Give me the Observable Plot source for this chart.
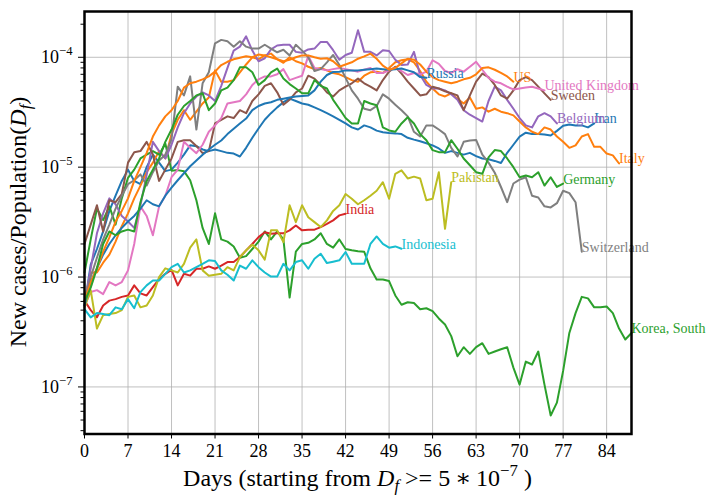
<!DOCTYPE html>
<html><head><meta charset="utf-8">
<script src="https://cdn.jsdelivr.net/npm/d3@7"></script>
<script src="https://cdn.jsdelivr.net/npm/@observablehq/plot@0.6"></script>
<style>
body{margin:0;background:#fff;}
#chart{width:720px;height:504px;}
</style>
</head><body><div id="chart"></div>
<script>
// New cases / population, given in units of 1e-6 (per million), one value per day from day 0
const iran = [0.55,1.3,1.8,2.6,4.0,5.5,7.5,9.5,7.5,7.0, 10,13,11,9.2,9.5,11,13,15.8,15.5,14.5, 14,14.5,14,13.5,13.3,12.5,15,18.5,22.5,27, 31,35,39,42,40,38,37,35,33,31, 29,27,25,23,22,24,23,21.5,20.8,20.5, 20.3,20,18.5,17.8,17.2,16.5,15.8,14.8,13.5,14, 13.5,13,13.5,12.6,12,11.8,11.4,10.9,13.5,16, 19,20.6,20,20,19.8,19.4,21.4,23.8,24.5,24, 24,23,25];
const italy = [0.6,1.1,1.1,1.35,1.6,2.1,2.9,3.8,5.2,6.8, 9.0,11,14,12,20,27,33,27,32,38, 43,76,60,60,62,73,86,100,96,104, 108,96,89,100,92,88,82,78,80,76, 72,70,66,62,60,68,73,74,72,80, 90,94,96,90,75,60,52,46,44,47, 42,38,43,34,35,32,34,32,31,29.6, 26,23,21,20,23,22,19,17,15,15.8, 19,20,15.3,15.3,13.3,12.8,10.8];
const korea = [1.1,2.2,4.2,3.3,4.4,3.0,5.2,8.0,9.5,12, 13,14,13,16.4,9.3,9.4,9.2,7.6,5.0,2.8, 2.0,3.8,2.2,2.1,1.9,1.5,1.55,1.8,2.1,2.6, 2.2,2.6,2.2,0.65,1.7,2.0,2.05,2.2,2.5,2.0, 1.85,2.2,1.8,1.75,1.72,1.7,1.2,0.95,0.95,0.92, 0.68,0.56,0.59,0.58,0.51,0.52,0.49,0.42,0.37,0.29, 0.19,0.23,0.20,0.23,0.25,0.20,0.21,0.22,0.23,0.15, 0.105,0.17,0.16,0.21,0.105,0.055,0.072,0.14,0.31,0.47, 0.66,0.64,0.53,0.53,0.54,0.47,0.34,0.27,0.31];
const india = [0.61,0.5,0.43,0.55,0.61,0.63,0.66,0.68,0.84,0.71, 0.68,0.81,0.96,1.07,1.16,0.84,1.07,1.03,1.19,1.19, 1.25,1.19,1.27,1.37,1.37,1.52,1.75,2.0,2.31,2.56, 2.48,2.5,2.5,2.66,2.95,2.66,2.7,2.7,2.85,3.05, 3.28,3.64,3.77];
const belgium = [0.55,1.2,2.5,3.8,5.2,4.6,3.6,3.2,2.8,4.5, 8.5,17,14,12,16,23,31,38,44,48, 45,40,55,80,115,125,155,115,92,98, 118,128,130,130,112,110,118,120,138,138, 116,95,105,110,176,112,112,104,116,114, 95,85,86,112,69,56,52,52,50,46, 41,33,30,28,26,40,54,50,41,34, 28,24,23,29,31,29,25];
const sweden = [2.0,3.0,4.5,2.6,5.0,4.8,5.7,11,13.7,14, 17,13,7.5,9.5,12,17,17.6,17.6,15.6,13.4, 14,25,27,29,28,33,31,40,46,55, 58,48,37,41,48,52,68,64,56,48, 44,50,54,58,64,58,54,50,62,74, 82,71,60,52,45,46,54,52,49,47, 45,33,45,60,71,66,56,45,42,50, 62,66,62,54,47,41];
const uk = [0.55,0.73,0.76,0.7,0.9,0.84,0.9,1.15,2.0,4.4, 3.6,2.4,4.4,5.5,8.1,9.5,17,15,13.4,16, 21,24,28,38,39,40,46,56,63,67, 67,70,78,62,65,68,103,80,78,76, 78,80,78,76,74,77,80,72,72,76, 80,75,69,72,70,74,94,87,75,72, 78,74,82,91,77,65,60,58,54,51, 52,53,54,52,50];
const switzerland = [0.6,1.0,1.5,2.2,3.0,4.2,5.5,7.0,7.6,8.6, 6.8,9.0,11.5,13,18,54,45,67,22,58, 73,134,144,140,125,140,125,120,120,130, 120,111,117,104,130,115,100,75,78,90, 105,85,65,50,42,34,33,36,46,42, 37,33,29,21,19,24,24,22,20,15, 12.5,17,17.5,17.7,13,11,8.9,6.6,4.8,7.1, 7.7,8.1,5.5,5.3,4.4,4.3,4.7,6.1,5.8,4.8, 1.7];
const pakistan = [0.53,0.76,0.34,0.45,0.46,0.47,0.5,0.66,0.68,0.53, 0.55,0.68,1.0,1.2,1.15,1.1,1.32,1.85,2.2,1.15, 1.03,1.05,1.07,1.23,1.15,1.52,1.75,1.97,1.75,1.44, 2.66,2.66,2.08,4.5,3.16,4.5,3.5,3.16,2.85,3.28, 4.0,4.5,5.7,5.16,4.6,5.0,5.5,6.1,7.3,5.16, 8.7,9.35,7.9,8.2,7.9,5.0,5.16,9.0,2.75,7.3];
const indonesia = [0.51,0.43,0.47,0.46,0.45,0.53,0.51,0.63,0.52,0.73, 0.84,0.93,0.93,1.07,1.23,1.32,1.1,1.15,1.23,1.32, 1.42,1.4,1.15,1.05,0.93,1.27,1.19,1.42,1.23,1.1, 1.01,1.01,1.32,1.15,1.37,1.42,1.19,1.47,1.63,1.34, 1.38,1.42,1.69,1.32,1.32,1.32,2.0,2.34,2.0,1.85, 1.9,1.81];
const russia = [0.55,0.9,1.2,1.6,2.0,2.4,2.8,3.2,3.6,4.2, 5.0,4.6,4.4,5.5,6.5,7.6,8.8,10.2,11.5,13, 14.5,16,17.5,20,22.4,25,27.7,33,36,38, 39,41,42,43,44,44.5,45,50,60,69, 73.5,74,76,76,76,77,78,79,78,77, 78,79,76,73,66,65];
const us = [0.6,0.9,1.2,1.7,2.3,3.2,4.0,5.2,7.5,10, 13.5,19,24,29,33,40,53,58,60,63, 67,74,85,91,96,99,102,100,106,104, 100,96,92,95,100,104,104,100,97,98, 92,82,86,90,97,102,108,97,84,77, 80,88,97,95,86,74,66,62,60,58, 60,63,65,70,80,81,77,72,67,60];
const germany = [0.6,0.8,1.2,2.0,2.6,2.4,2.6,2.7,2.6,4.8, 7.5,9.5,12,17,22,30,36,40,45,47, 33,38,50,53,62,81,81,73,56,62, 73,79,64,57,52,47,47,62,55,52, 41,34,28,25,25,40,38,36.6,23,21.6, 21,25,28.5,25,20,17.6,14.3,13.7,13.7,17.6, 14.7,12,10.4,9.0,8.7,12.3,14.3,14,12,10, 8.1,8.4,8.1,9.0,6.8,8.1,6.6,7.1];

const countries = ["Iran","Italy","Korea, South","India","Belgium","Sweden","United Kingdom","Switzerland","Pakistan","Indonesia","Russia","US","Germany"];
const seriesValues = [iran, italy, korea, india, belgium, sweden, uk, switzerland, pakistan, indonesia, russia, us, germany];
const colors = ["#1f77b4","#ff7f0e","#2ca02c","#d62728","#9467bd","#8c564b","#e377c2","#7f7f7f","#bcbd22","#17becf","#1f77b4","#ff7f0e","#2ca02c"];

const xTicks = [0,7,14,21,28,35,42,49,56,63,70,77,84];
const yTicks = [1e-7,1e-6,1e-5,1e-4];
const yTickExponents = ["\u22127","\u22126","\u22125","\u22124"];

const rows = [];
countries.forEach((c, i) => seriesValues[i].forEach((v, d) => rows.push({country: c, day: d, value: v * 1e-6})));
const lastRows = countries.map((c, i) => {
  const s = seriesValues[i];
  return {country: c, day: s.length - 1, value: s[s.length - 1] * 1e-6};
});

const yMinor = [];
for (let e = -8; e <= -4; e++) for (let m = 2; m <= 9; m++) {
  const v = m * Math.pow(10, e);
  if (v > 3.73e-8 && v < 2.61e-4) yMinor.push(v);
}

const font = '"Liberation Serif", "DejaVu Serif", "Times New Roman", serif';

const chart = Plot.plot({
  width: 720, height: 504,
  marginLeft: 84, marginRight: 89, marginTop: 11, marginBottom: 70.5,
  style: {fontFamily: font, background: "white", overflow: "visible"},
  x: {domain: [0, 88]},
  y: {type: "log", domain: [3.73e-8, 2.61e-4]},
  color: {domain: countries, range: colors},
  marks: [
    Plot.gridX(xTicks, {stroke: "#b0b0b0", strokeOpacity: 1, strokeWidth: 0.8}),
    Plot.gridY(yTicks, {stroke: "#b0b0b0", strokeOpacity: 1, strokeWidth: 0.8}),
    Plot.line(rows, {x: "day", y: "value", z: "country", stroke: "country", strokeWidth: 2}),
    Plot.text(lastRows, {x: "day", y: "value", text: "country", fill: "country", textAnchor: "start", lineAnchor: "bottom", fontSize: 14}),
    Plot.axisX({ticks: xTicks, tickSize: 5, tickPadding: 5, fontSize: 18, label: null}),
    Plot.axisY({ticks: yMinor, tickSize: 3.5, tickFormat: () => "", label: null}),
    Plot.axisY({ticks: yTicks, tickSize: 6, tickPadding: 6, fontSize: 18, tickFormat: v => "10|" + yTickExponents[yTicks.indexOf(v)], label: null}),
    Plot.frame({stroke: "black", strokeWidth: 2.5})
  ]
});

document.getElementById("chart").appendChild(chart);
const svg = d3.select(chart);

// superscript exponents on y tick labels
svg.selectAll("text").each(function() {
  const t = d3.select(this);
  const s = this.textContent;
  if (s.startsWith("10|")) {
    const exp = s.slice(3);
    t.text("10");
    t.append("tspan").attr("font-size", 12.6).attr("dy", -8).text(exp);
  }
});

// x-axis label
const xl = svg.append("text")
  .attr("x", (84 + 631) / 2).attr("y", 486)
  .attr("text-anchor", "middle").attr("font-size", 24).attr("fill", "black");
xl.append("tspan").text("Days (starting from ");
xl.append("tspan").attr("font-style", "italic").text("D");
xl.append("tspan").attr("font-style", "italic").attr("font-size", 16.8).attr("dy", 5).text("f");
xl.append("tspan").attr("dy", -5).text(" >= 5\u2009\u2217\u200910");
xl.append("tspan").attr("font-size", 16.8).attr("dy", -10).text("\u22127");
xl.append("tspan").attr("dy", 10).text(" )");

// y-axis label
const yl = svg.append("text")
  .attr("transform", "translate(26,222) rotate(-90)")
  .attr("text-anchor", "middle").attr("font-size", 24).attr("fill", "black");
yl.append("tspan").text("New cases/Population(");
yl.append("tspan").attr("font-style", "italic").text("D");
yl.append("tspan").attr("font-style", "italic").attr("font-size", 16.8).attr("dy", 5).text("f");
yl.append("tspan").attr("dy", -5).text(")");
</script>
</body></html>
